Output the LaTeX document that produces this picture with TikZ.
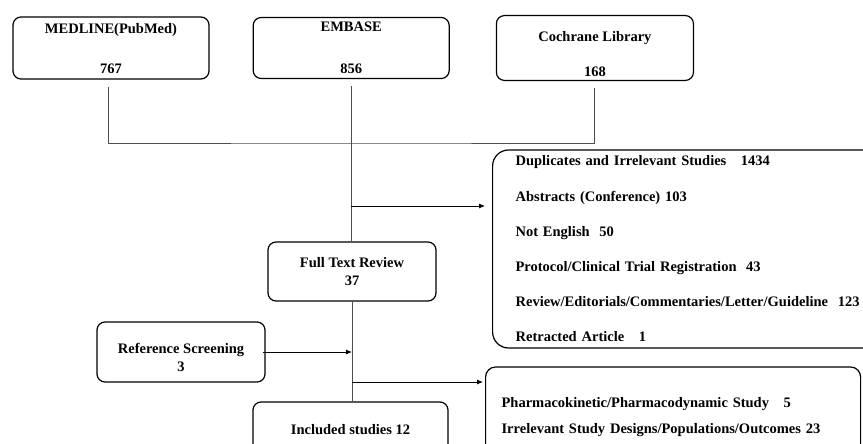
\documentclass[tikz,border=0pt]{standalone}
\usepackage{fontspec}
\setmainfont{Liberation Serif}
\usetikzlibrary{arrows.meta,positioning}

\begin{document}
\begin{tikzpicture}[x=1pt,y=-1pt,
  box/.style={draw,line width=1.2pt,rounded corners=8pt,align=center,
    font=\fontsize{14.5}{18}\selectfont\bfseries},
  exbox/.style={box,align=left,anchor=west},
  ln/.style={line width=0.9pt,black!70},
  arj/.style={line width=0.9pt,-{Latex[length=6pt,width=5pt]}}]
\clip (0,0) rectangle (863,444);
\path node[box,minimum width=196pt,minimum height=62pt] (med) at (111,48) {\rule{0pt}{12pt}MEDLINE(PubMed)\\[22pt]767}
    node[box,minimum width=196pt,minimum height=61pt,right=43pt of med] (emb) {EMBASE\\[24pt]856}
    node[box,minimum width=197pt,minimum height=62pt,right=46pt of emb] (coch) {\rule{0pt}{23pt}Cochrane Library\\[17pt]168};
\path node[box,minimum width=168pt,minimum height=59pt] (full) at (352,271.5) {Full Text Review\\37}
    node[box,minimum width=168pt,minimum height=60pt] (ref) at (181,352) {\rule{0pt}{22pt}Reference Screening\\3}
    node[box,minimum width=195pt,minimum height=50pt] (inc) at (350.5,427) {\rule{0pt}{15pt}Included studies 12};
\node[exbox,rounded corners=16pt,inner xsep=23pt,text width=360pt,minimum height=198pt] (ex1) at (492,249)
    {Duplicates and Irrelevant Studies\ \ \ 1434\\[17.2pt]
     Abstracts (Conference) 103\\[17.2pt]
     Not English\ \ 50\\[17.2pt]
     Protocol/Clinical Trial Registration\ \ 43\\[17.2pt]
     Review/Editorials/Commentaries/Letter/Guideline\ \ 123\\[17.2pt]
     Retracted Article\ \ \ 1};
\node[exbox,rounded corners=10pt,inner xsep=16pt,text width=343pt,minimum height=100pt] (ex2) at (485,417)
    {Pharmacokinetic/Pharmacodynamic Study\ \ \ 5\\[8pt]
     Irrelevant Study Designs/Populations/Outcomes 23};
\coordinate (hub) at (351,143);
\coordinate (cut1) at (351,206);
\coordinate (cut2) at (352,382);
\draw[ln] ([shift={(-3pt,-7pt)}]med.south) |- (hub) -| ([yshift=-7pt]coch.south);
\draw[ln] ([yshift=-7pt]emb.south) -- (emb.south |- full.north);
\draw[arj] (cut1) -- ([xshift=-7pt]cut1 -| ex1.west);
\draw[ln] (full.south) -- (full.south |- inc.north);
\draw[arj] ([xshift=-3pt]ref.east) -- (ref.east -| full.south);
\draw[arj] (cut2) -- ([xshift=-2pt]cut2 -| ex2.west);
\end{tikzpicture}
\end{document}
